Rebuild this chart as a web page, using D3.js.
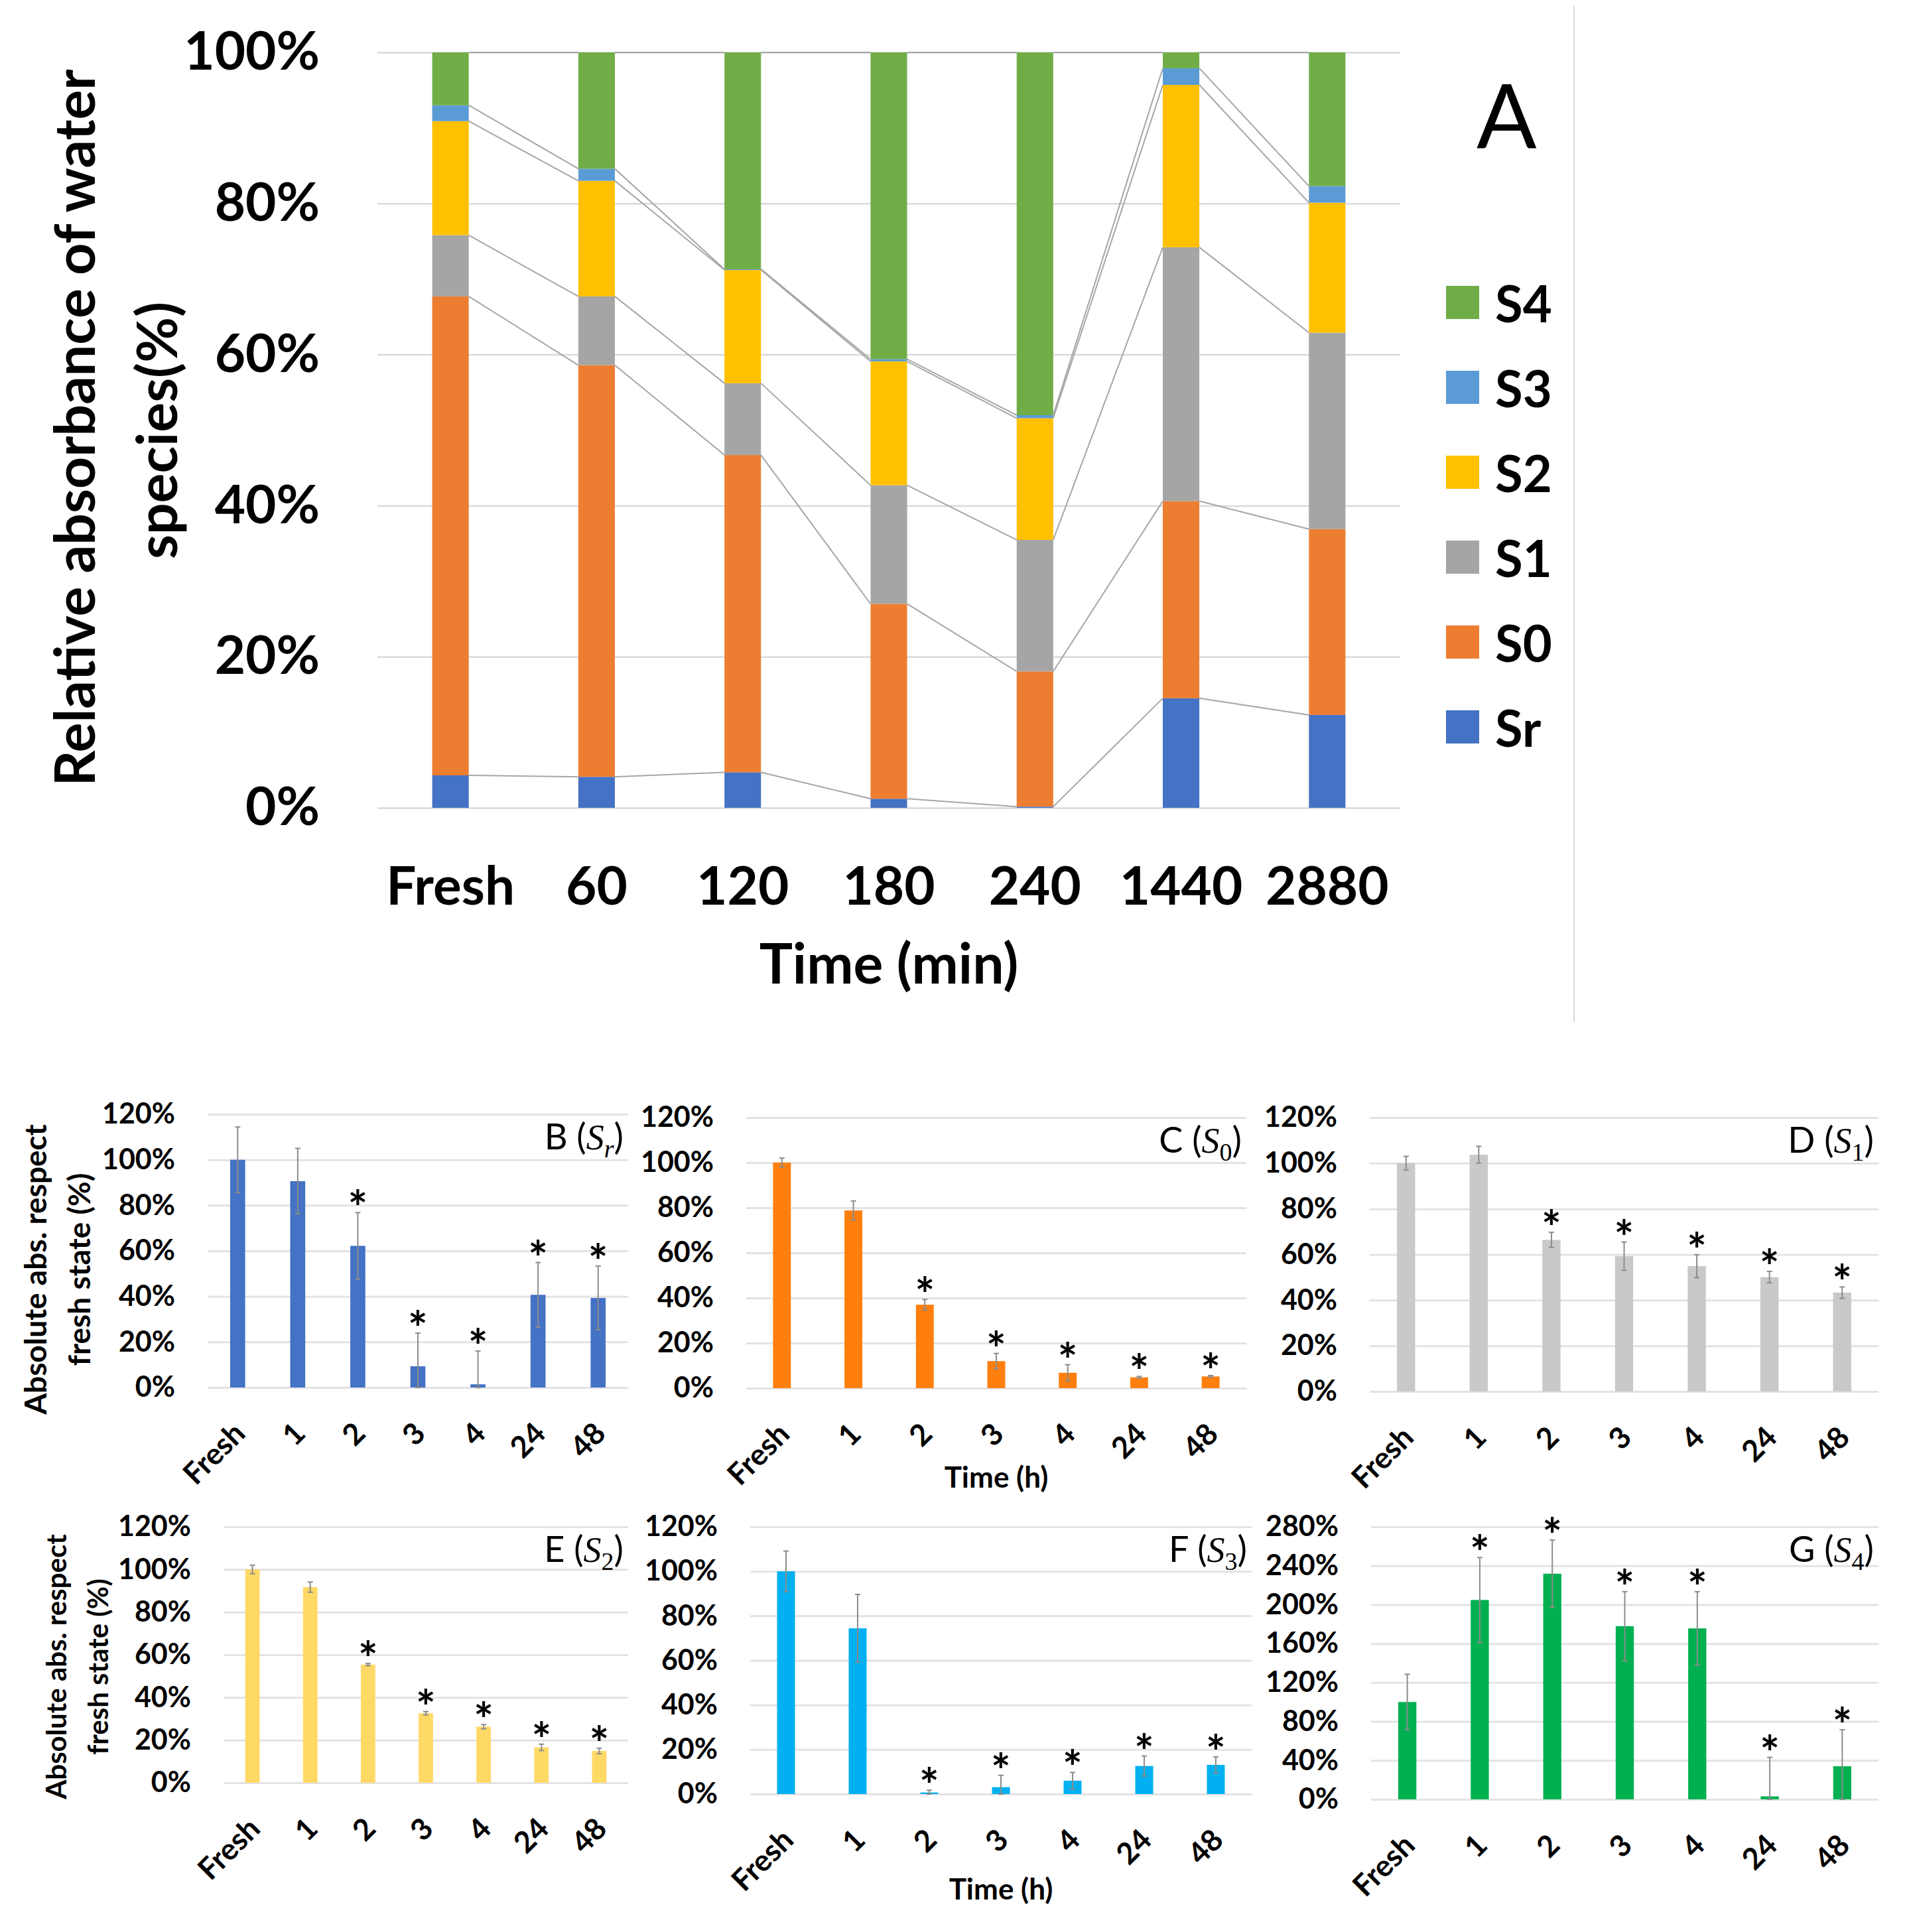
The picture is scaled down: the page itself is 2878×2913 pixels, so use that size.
<!DOCTYPE html>
<html>
<head>
<meta charset="utf-8">
<title>water species</title>
<script src="https://d3js.org/d3.v7.min.js"></script>
<style>
  body { margin: 0; background: #fff; }
  text { font-family: Lato, "Open Sans", sans-serif; fill: #000; }
</style>
</head>
<body>
<svg id="fig" width="2878" height="2913"></svg>
<script>
// ---- panel A : relative absorbance of each water species (%)
let timesMin = ["Fresh", "60", "120", "180", "240", "1440", "2880"];
let speciesNames = ["Sr", "S0", "S1", "S2", "S3", "S4"];
let Sr = [4.3, 4.1, 4.7, 1.2, 0.15, 14.5, 12.3];
let S0 = [63.4, 54.5, 42.0, 25.8, 17.9, 26.1, 24.6];
let S1 = [8.1, 9.1, 9.5, 15.7, 17.4, 33.6, 26.0];
let S2 = [15.1, 15.3, 15.0, 16.4, 16.1, 21.5, 17.2];
let S3 = [2.1, 1.6, 0.1, 0.3, 0.4, 2.2, 2.2];
let S4 = [7.0, 15.4, 28.7, 40.6, 48.0, 2.1, 17.7];
let ticksA = [0, 0.2, 0.4, 0.6, 0.8, 1];

// ---- panels B-G : absolute absorbance respect fresh state (%)
let timesH = ["Fresh", "1", "2", "3", "4", "24", "48"];
let absSr = [100, 90.6, 62.2, 9.3, 1.4, 40.7, 39.3];
let errSr = [14.4, 14.4, 14.6, 14.6, 14.6, 14.2, 14.0];
let absS0 = [100, 78.8, 37.0, 12.0, 6.8, 4.8, 5.2];
let errS0 = [2.0, 4.2, 2.3, 3.4, 3.6, 0.4, 0.4];
let absS1 = [100, 103.7, 66.4, 59.3, 54.9, 50.1, 43.3];
let errS1 = [3.0, 3.7, 3.3, 6.2, 5.0, 2.5, 2.5];
let absS2 = [100, 91.7, 55.4, 32.6, 26.3, 16.6, 14.9];
let errS2 = [2.0, 2.4, 0.5, 0.8, 1.0, 1.5, 1.3];
let absS3 = [100, 74.4, 0.7, 3.1, 6.0, 12.6, 13.1];
let errS3 = [9.1, 15.2, 1.0, 5.3, 3.7, 4.5, 3.6];
let absS4 = [100, 204.8, 231.8, 177.9, 175.6, 3.1, 34.0];
let errS4 = [28.5, 43.7, 34.6, 35.5, 37.7, 40.0, 37.5];
let starsA = [0, 0, 1, 1, 1, 1, 1];   // significance marks
let starsB = [0, 1, 1, 1, 1, 1, 1];
let ticks120 = [0, 20, 40, 60, 80, 100, 120];
let ticks280 = [0, 40, 80, 120, 160, 200, 240, 280];

let svg = d3.select("#fig");
svg.append("rect").attr("width", 2878).attr("height", 2913).attr("fill", "white");

// ================= panel A =================
let colorsA = { Sr: "#4472C4", S0: "#ED7D31", S1: "#A5A5A5", S2: "#FFC000", S3: "#5B9BD5", S4: "#70AD47" };
let seriesA = { Sr: Sr, S0: S0, S1: S1, S2: S2, S3: S3, S4: S4 };
let rowsA = timesMin.map(function(t, i) {
	let r = { time: t };
	speciesNames.forEach(function(s) { r[s] = seriesA[s][i]; });
	return r;
});
let stackA = d3.stack().keys(speciesNames).offset(d3.stackOffsetExpand)(rowsA);

let xA = d3.scaleBand().domain(timesMin).range([569, 2111]).paddingInner(0.75).paddingOuter(0.375);
let yA = d3.scaleLinear().domain([0, 1]).range([1218, 79]);
let gA = svg.append("g");

let axA = gA.append("g").attr("transform", "translate(569,0)")
	.call(d3.axisLeft(yA).tickValues(ticksA).tickFormat(d3.format(".0%")).tickSize(-(2111 - 569)).tickPadding(87));
axA.select(".domain").remove();
axA.selectAll("line").attr("stroke", "#d9d9d9").attr("stroke-width", 2.5);
axA.selectAll("text").attr("font-size", 80).attr("font-weight", "bold").attr("font-family", "Lato");

let axAx = gA.append("g").attr("transform", "translate(0,1218)")
	.call(d3.axisBottom(xA).tickSize(0).tickPadding(89));
axAx.select(".domain").remove();
axAx.selectAll("text").attr("font-size", 80).attr("font-weight", "bold").attr("font-family", "Lato");

// bars
gA.selectAll("g.layer").data(stackA).join("g").attr("class", "layer")
	.attr("fill", function(d) { return colorsA[d.key]; })
	.selectAll("rect").data(function(d) { return d; }).join("rect")
	.attr("x", function(d) { return xA(d.data.time); })
	.attr("width", xA.bandwidth())
	.attr("y", function(d) { return yA(d[1]); })
	.attr("height", function(d) { return yA(d[0]) - yA(d[1]); });

// series lines between bar tops
stackA.forEach(function(layer) {
	for (let i = 0; i < layer.length - 1; i++) {
		gA.append("line")
			.attr("x1", xA(timesMin[i]) + xA.bandwidth()).attr("y1", yA(layer[i][1]))
			.attr("x2", xA(timesMin[i + 1])).attr("y2", yA(layer[i + 1][1]))
			.attr("stroke", "#a6a6a6").attr("stroke-width", 2);
	}
});

// axis titles
gA.append("text").attr("x", 1340).attr("y", 1483).attr("text-anchor", "middle")
	.attr("font-size", 84).attr("font-weight", "bold").text("Time (min)");
gA.append("text").attr("transform", "translate(110,645) rotate(-90)")
	.attr("text-anchor", "middle").attr("dominant-baseline", "central")
	.attr("font-size", 84).attr("font-weight", "bold").text("Relative absorbance of water");
gA.append("text").attr("transform", "translate(234,649) rotate(-90)")
	.attr("text-anchor", "middle").attr("dominant-baseline", "central")
	.attr("font-size", 84).attr("font-weight", "bold").text("species(%)");

// legend (top = S4)
let legendKeys = speciesNames.slice().reverse();
let leg = gA.selectAll("g.leg").data(legendKeys).join("g").attr("class", "leg")
	.attr("transform", function(d, i) { return "translate(2180," + (431 + 128 * i) + ")"; });
leg.append("rect").attr("width", 50).attr("height", 50).attr("fill", function(d) { return colorsA[d]; });
leg.append("text").attr("x", 74).attr("y", 25).attr("dominant-baseline", "central")
	.attr("font-size", 76).attr("font-weight", "bold").text(function(d) { return d; });

gA.append("text").attr("x", 2226).attr("y", 223).attr("font-size", 134).text("A");

svg.append("line").attr("x1", 2373).attr("x2", 2373).attr("y1", 9).attr("y2", 1541)
	.attr("stroke", "#d9d9d9").attr("stroke-width", 2);

// ================= panels B-G =================
let panels = [
	{ letter: "B", sub: "r", subItalic: true, vals: absSr, errs: errSr, stars: starsA, color: "#4472C4",
	  ticks: ticks120, left: 313, right: 947, top: 1680, bottom: 2092,
	  ytitle: { x1: 52, x2: 118, y: 1914, size: 46 } },
	{ letter: "C", sub: "0", vals: absS0, errs: errS0, stars: starsA, color: "#FF7F0E",
	  ticks: ticks120, left: 1125, right: 1879, top: 1685, bottom: 2093, xtitle: 2243 },
	{ letter: "D", sub: "1", vals: absS1, errs: errS1, stars: starsA, color: "#C9C9C9",
	  ticks: ticks120, left: 2065, right: 2832, top: 1685, bottom: 2098 },
	{ letter: "E", sub: "2", vals: absS2, errs: errS2, stars: starsA, color: "#FFD966",
	  ticks: ticks120, left: 337, right: 947, top: 2302, bottom: 2688,
	  ytitle: { x1: 84, x2: 147, y: 2513, size: 42 } },
	{ letter: "F", sub: "3", vals: absS3, errs: errS3, stars: starsA, color: "#00B0F0",
	  ticks: ticks120, left: 1131, right: 1887, top: 2302, bottom: 2705, xtitle: 2864 },
	{ letter: "G", sub: "4", vals: absS4, errs: errS4, stars: starsB, color: "#00B050",
	  ticks: ticks280, left: 2067, right: 2832, top: 2302, bottom: 2713 }
];

function drawPanel(p)
{
	let g = svg.append("g");
	let x = d3.scaleBand().domain(timesH).range([p.left, p.right]).paddingInner(0.75).paddingOuter(0.375);
	let y = d3.scaleLinear().domain([0, d3.max(p.ticks)]).range([p.bottom, p.top]);

	let ax = g.append("g").attr("transform", "translate(" + p.left + ",0)")
		.call(d3.axisLeft(y).tickValues(p.ticks).tickFormat(function(d) { return d + "%"; })
			.tickSize(-(p.right - p.left)).tickPadding(49));
	ax.select(".domain").remove();
	ax.selectAll("line").attr("stroke", "#e3e3e3").attr("stroke-width", 3);
	ax.selectAll("text").attr("font-size", 43).attr("font-weight", "bold").attr("font-family", "Lato");

	// rotated category labels
	g.selectAll("text.cat").data(timesH).join("text").attr("class", "cat")
		.attr("transform", function(d) { return "translate(" + (x(d) + x.bandwidth() / 2 + 2) + "," + (p.bottom + 60) + ") rotate(-45)"; })
		.attr("text-anchor", "end").attr("dominant-baseline", "central")
		.attr("font-size", 45).attr("font-weight", "bold").text(function(d) { return d; });

	g.selectAll("rect.bar").data(p.vals).join("rect").attr("class", "bar")
		.attr("x", function(d, i) { return x(timesH[i]); })
		.attr("width", x.bandwidth())
		.attr("y", function(d) { return y(d); })
		.attr("height", function(d) { return y(0) - y(d); })
		.attr("fill", p.color);

	// error bars
	p.vals.forEach(function(v, i) {
		let cx = x(timesH[i]) + x.bandwidth() / 2;
		let hi = y(v + p.errs[i]), lo = y(Math.max(0, v - p.errs[i]));
		g.append("line").attr("x1", cx).attr("x2", cx).attr("y1", hi).attr("y2", lo)
			.attr("stroke", "#8c8c8c").attr("stroke-width", 2);
		[hi, lo].forEach(function(yy) {
			g.append("line").attr("x1", cx - 4).attr("x2", cx + 4).attr("y1", yy).attr("y2", yy)
				.attr("stroke", "#8c8c8c").attr("stroke-width", 2);
		});
		if (p.stars[i]) {
			g.append("text").attr("x", cx).attr("y", hi + 19).attr("text-anchor", "middle")
				.attr("font-family", "'DejaVu Sans', sans-serif").attr("font-weight", "bold")
				.attr("font-size", 70).text("*");
		}
	});

	// panel label, e.g. B (S_r)
	let lab = g.append("text").attr("x", p.right - 7).attr("y", p.top + 53)
		.attr("text-anchor", "end").attr("font-size", 54);
	lab.append("tspan").text(p.letter + " (");
	lab.append("tspan").attr("font-family", "'Liberation Serif', 'DejaVu Serif', serif")
		.attr("font-style", "italic").text("S");
	lab.append("tspan").attr("font-family", "'Liberation Serif', 'DejaVu Serif', serif")
		.attr("font-style", p.subItalic ? "italic" : "normal")
		.attr("font-size", 38).attr("dy", 12).text(p.sub);
	lab.append("tspan").attr("dy", -12).text(")");

	if (p.ytitle) {
		g.append("text").attr("transform", "translate(" + p.ytitle.x1 + "," + p.ytitle.y + ") rotate(-90)")
			.attr("text-anchor", "middle").attr("dominant-baseline", "central")
			.attr("font-size", p.ytitle.size).attr("font-weight", "bold").text("Absolute abs. respect");
		g.append("text").attr("transform", "translate(" + p.ytitle.x2 + "," + p.ytitle.y + ") rotate(-90)")
			.attr("text-anchor", "middle").attr("dominant-baseline", "central")
			.attr("font-size", p.ytitle.size).attr("font-weight", "bold").text("fresh state (%)");
	}
	if (p.xtitle) {
		g.append("text").attr("x", (p.left + p.right) / 2).attr("y", p.xtitle)
			.attr("text-anchor", "middle").attr("font-size", 44).attr("font-weight", "bold").text("Time (h)");
	}
}

panels.forEach(drawPanel);
</script>
</body>
</html>
